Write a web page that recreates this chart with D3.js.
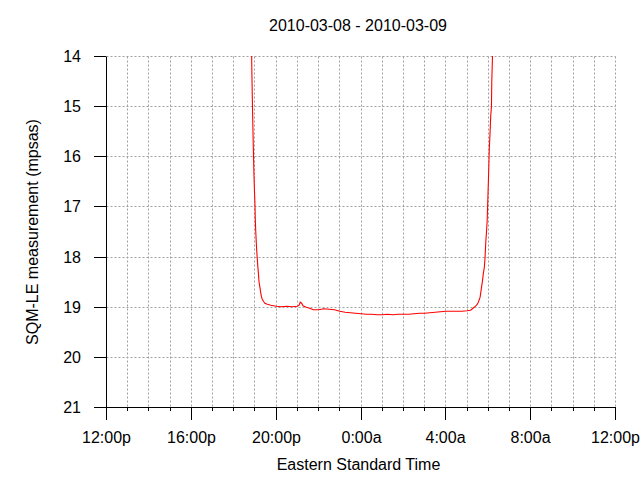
<!DOCTYPE html>
<html>
<head>
<meta charset="utf-8">
<script src="https://cdn.jsdelivr.net/npm/d3@7"></script>
<style>
  html, body { margin: 0; padding: 0; background: #fff; }
  svg { display: block; }
  text { font-family: "Liberation Sans", Arial, sans-serif; font-size: 16px; fill: #000; }
</style>
</head>
<body>
<svg id="chart" width="640" height="480"></svg>
<script>
// ---- data ----
const title = "2010-03-08 - 2010-03-09";
const xTitle = "Eastern Standard Time";
const yTitle = "SQM-LE measurement (mpsas)";
const startDay = "2010-03-08";
const yTicks = [14, 15, 16, 17, 18, 19, 20, 21];
const xTickLabels = ["12:00p", "16:00p", "20:00p", "0:00a", "4:00a", "8:00a", "12:00p"];

// local times (times before noon belong to the next day)
const times = [
  "18:50","18:51","18:52","18:53","18:54","18:55","18:56","18:57","18:58","18:59",
  "19:00","19:01","19:02","19:03","19:04","19:05","19:06","19:07","19:08","19:09",
  "19:10","19:11","19:12","19:14","19:16","19:18","19:20","19:24","19:28","19:35",
  "19:45","20:00","20:15","20:30","20:45","21:00","21:05","21:08","21:12","21:16",
  "21:25","21:35","21:45","22:00","22:15","22:30","22:45","23:00","23:15","23:30",
  "23:45","00:00","00:15","00:30","00:45","01:00","01:15","01:30","01:45","02:00",
  "02:15","02:30","02:45","03:00","03:15","03:30","03:45","04:00","04:15","04:30",
  "04:45","05:00","05:10","05:17","05:24","05:28","05:32","05:37","05:40","05:44",
  "05:46","05:49","05:51","05:53","05:55","05:57","05:59","06:01","06:03","06:05",
  "06:07","06:09","06:10","06:12","06:13"
];
const mpsas = [
  13.5, 14.2, 14.6, 15.0, 15.35, 15.7, 16.0, 16.3, 16.55, 16.75,
  16.95, 17.25, 17.45, 17.6, 17.75, 17.87, 17.98, 18.07, 18.18, 18.26,
  18.35, 18.45, 18.52, 18.6, 18.7, 18.78, 18.83, 18.88, 18.92, 18.94,
  18.96, 18.98, 18.99, 18.98, 18.99, 18.98, 18.96, 18.90, 18.92, 18.97,
  19.00, 19.02, 19.05, 19.05, 19.03, 19.04, 19.05, 19.08, 19.10, 19.11,
  19.12, 19.13, 19.14, 19.14, 19.15, 19.15, 19.14, 19.15, 19.14, 19.14,
  19.14, 19.13, 19.12, 19.12, 19.11, 19.10, 19.09, 19.08, 19.08, 19.08,
  19.08, 19.07, 19.06, 19.02, 18.98, 18.95, 18.90, 18.80, 18.65, 18.46,
  18.33, 18.2, 18.0, 17.7, 17.5, 17.27, 16.8, 16.35, 15.84, 15.54,
  15.18, 15.01, 14.5, 14.0, 13.5
];

// ---- chart ----
const svg = d3.select("#chart");
const pLeft = 106, pRight = 615, pTop = 56, pBottom = 407;
const h = 0.5; // half-pixel offset for crisp 1px lines

const parse = d3.timeParse("%Y-%m-%d %H:%M");
const day0 = parse(startDay + " 12:00");
const day1 = d3.timeDay.offset(day0, 1);
function toDate(t) {
  const d = parse(startDay + " " + t);
  return (+t.slice(0, 2) < 12) ? d3.timeDay.offset(d, 1) : d;
}
const data = times.map((t, i) => ({ t: toDate(t), v: mpsas[i] }));

const x = d3.scaleTime().domain([day0, day1]).rangeRound([pLeft, pRight]);
const y = d3.scaleLinear().domain([14, 21]).rangeRound([pTop, pBottom]);
const xs = d3.scaleTime().domain([day0, day1]).range([pLeft + h, pRight + h]);
const ys = d3.scaleLinear().domain([14, 21]).range([pTop + h, pBottom + h]);

const majorTicks = d3.timeHour.every(4).range(day0, d3.timeHour.offset(day1, 1));
const minorTicks = d3.timeHour.every(1).range(day0, d3.timeHour.offset(day1, 1));

// grid
const grid = svg.append("g").attr("stroke", "#a0a0a0").attr("stroke-width", 1)
  .attr("stroke-dasharray", "2,2").attr("fill", "none");
grid.selectAll("line.h").data(yTicks.filter(v => v !== 21)).join("line")
  .attr("class", "h")
  .attr("x1", pLeft + h).attr("x2", pRight + h)
  .attr("y1", d => y(d) + h).attr("y2", d => y(d) + h);
grid.selectAll("line.v").data(minorTicks.slice(1)).join("line")
  .attr("class", "v")
  .attr("x1", d => x(d) + h).attr("x2", d => x(d) + h)
  .attr("y1", pTop + h).attr("y2", pBottom + h);

// line
svg.append("clipPath").attr("id", "clip").append("rect")
  .attr("x", pLeft).attr("y", pTop).attr("width", pRight - pLeft + 1).attr("height", pBottom - pTop + 1);
const line = d3.line().x(d => xs(d.t)).y(d => ys(d.v));
svg.append("path").datum(data)
  .attr("clip-path", "url(#clip)")
  .attr("fill", "none").attr("stroke", "#ff0000").attr("stroke-width", 1.1)
  .attr("d", line);

// x axis minor
svg.append("g").attr("transform", `translate(0,${pBottom})`)
  .call(d3.axisBottom(x).tickValues(minorTicks).tickSize(4).tickFormat("").tickSizeOuter(0))
  .call(g => g.select(".domain").remove())
  .call(g => g.selectAll("line").attr("stroke", "#000"));

// x axis major
const xAxis = svg.append("g").attr("transform", `translate(0,${pBottom})`)
  .call(d3.axisBottom(x).tickValues(majorTicks).tickSize(13).tickSizeOuter(0)
    .tickFormat((d, i) => xTickLabels[i]));
xAxis.select(".domain").attr("stroke", "#000");
xAxis.selectAll("line").attr("stroke", "#000");
xAxis.selectAll("text").attr("y", 36).attr("dy", null)
  .style("font-family", '"Liberation Sans", Arial, sans-serif').style("font-size", "16px").attr("fill", "#000");

// y axis
const yAxis = svg.append("g").attr("transform", `translate(${pLeft},0)`)
  .call(d3.axisLeft(y).tickValues(yTicks).tickSize(12).tickPadding(13).tickSizeOuter(0)
    .tickFormat(d3.format("d")));
yAxis.select(".domain").attr("stroke", "#000");
yAxis.selectAll("line").attr("stroke", "#000");
yAxis.selectAll("text").attr("dy", "0.34em")
  .style("font-family", '"Liberation Sans", Arial, sans-serif').style("font-size", "16px").attr("fill", "#000");

// titles
svg.append("text").attr("x", 358).attr("y", 30.5).attr("text-anchor", "middle").text(title);
svg.append("text").attr("x", 358.5).attr("y", 470).attr("text-anchor", "middle").text(xTitle);
svg.append("text").attr("transform", "translate(37.5,232) rotate(-90)")
  .attr("text-anchor", "middle").text(yTitle);
</script>
</body>
</html>
